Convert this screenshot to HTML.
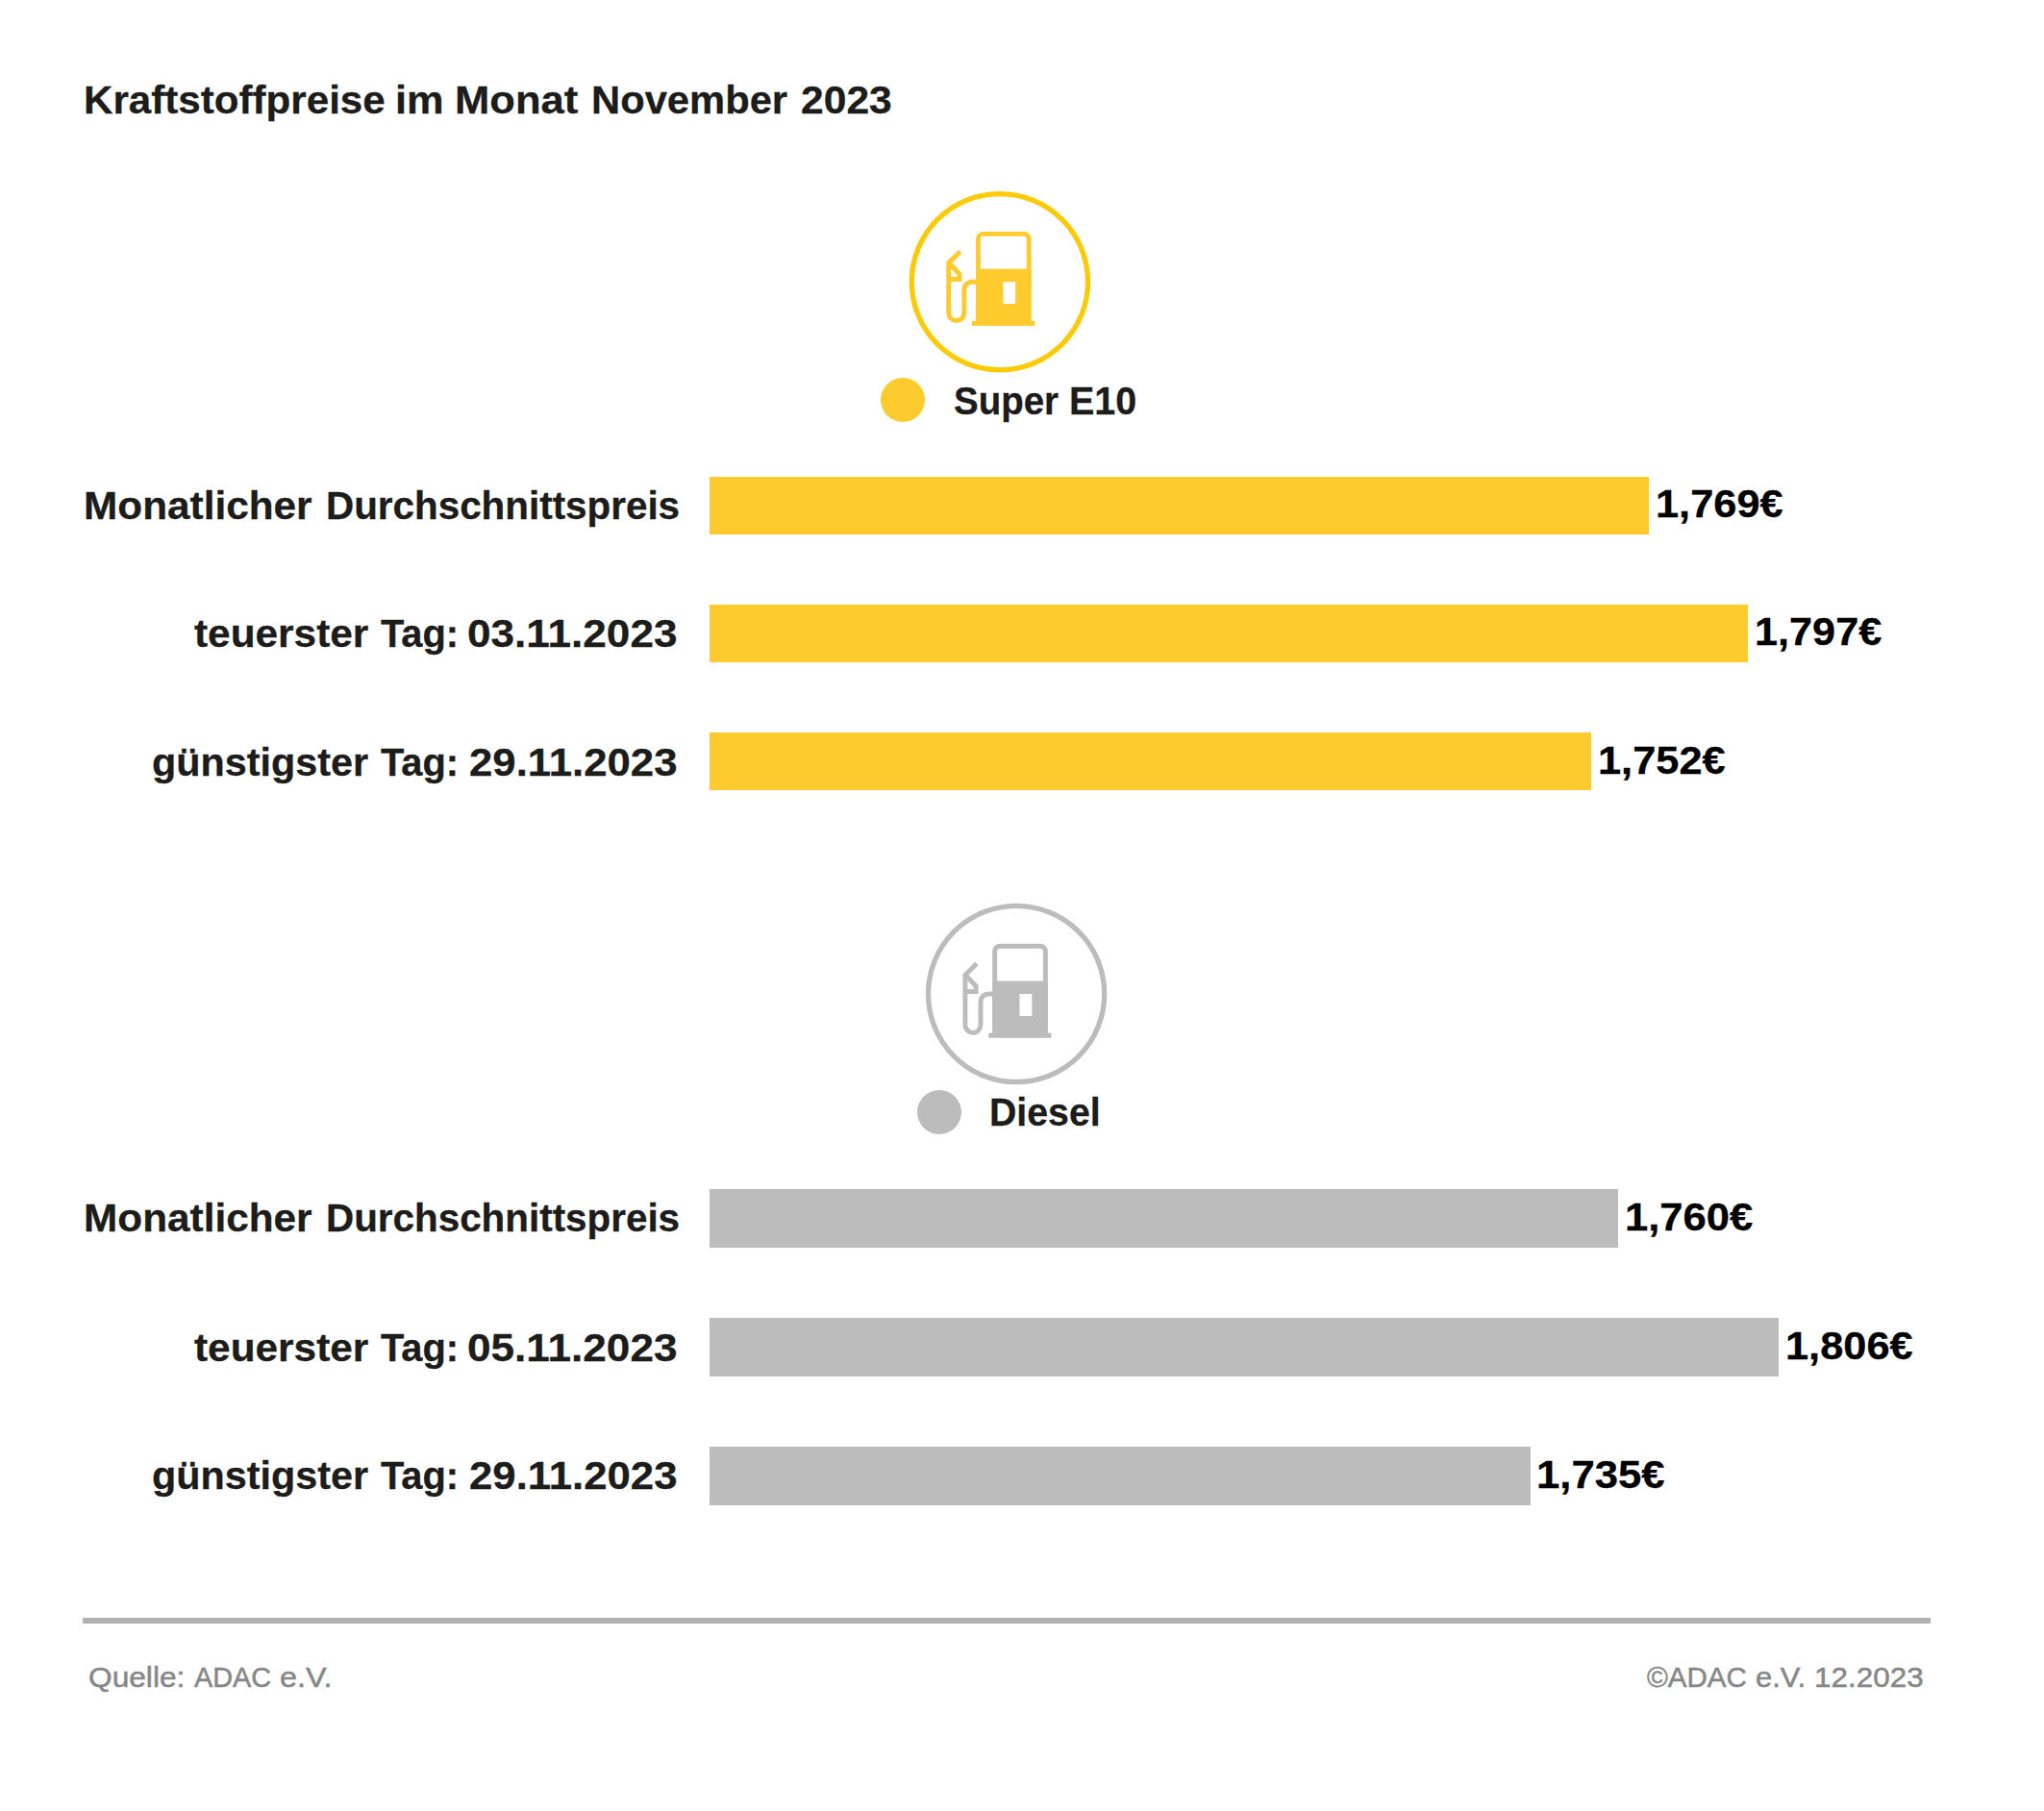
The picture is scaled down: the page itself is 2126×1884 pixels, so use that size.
<!DOCTYPE html>
<html lang="de">
<head>
<meta charset="utf-8">
<title>Kraftstoffpreise im Monat November 2023</title>
<style>
  html, body { margin: 0; padding: 0; background: #ffffff; }
  body { width: 2126px; height: 1884px; position: relative; overflow: hidden;
         font-family: "Liberation Sans", sans-serif; }
  .t { position: absolute; left: 0; width: 2126px; height: 41px; white-space: nowrap; line-height: 1; margin: 0;
       font-weight: bold; font-size: 41px; color: #1c1c1b; -webkit-text-stroke: 0.3px #1c1c1b; }
  .t span { position: absolute; top: 0; transform-origin: 0 0; white-space: nowrap; }
  .val { color: #000000; -webkit-text-stroke: 0.3px #000000; }
  .foot { font-weight: normal; font-size: 30.4px; color: #878787; -webkit-text-stroke: 0.5px #878787; }
  .bar { position: absolute; left: 738px; height: 60px; }
  .y { background: #fdcb2e; }
  .g { background: #bcbcbc; }
  .dot { position: absolute; width: 46px; height: 46px; border-radius: 50%; }
  .rule { position: absolute; left: 86.3px; top: 1683px; width: 1921.7px; height: 5.6px; background: #b0b0b0; }
  svg { position: absolute; left: 0; top: 0; overflow: visible; }
</style>
</head>
<body>

<h1 class="t" id="title" style="top:83.6px;"><span style="left:86.72px; transform:scaleX(1.0276);">Kraftstoffpreise</span> <span style="left:411.33px; transform:scaleX(1.0581);">im</span> <span style="left:473.41px; transform:scaleX(1.0624);">Monat</span> <span style="left:615.45px; transform:scaleX(1.0178);">November</span> <span style="left:832.86px; transform:scaleX(1.0393);">2023</span></h1>

<!-- Super E10 -->
<svg width="2126" height="1884" viewBox="0 0 2126 1884">
  <g fill="none" stroke="#fdcb2e">
    <circle cx="1039.9" cy="293.2" r="91.65" stroke="#fdca08" stroke-width="5.3"/>
    <rect x="1017.45" y="243.4" width="52.75" height="93" rx="5.5" ry="5.5" stroke-width="4.9"/>
    <path d="M1015 279.7H1072.65V336H1015Z M1043.3 293.3V316.1H1056.1V293.3Z" fill="#fdcb2e" stroke="none" fill-rule="evenodd"/>
    <rect x="1011" y="333.9" width="65.3" height="5" fill="#fdcb2e" stroke="none"/>
    <path d="M1016 293.2H1010.8A8 8 0 0 0 1002.8 301.2V325.5A8.05 8.05 0 0 1 986.7 325.5V273.4L998.7 261.7" stroke-width="4.9" stroke-linejoin="miter" stroke-miterlimit="10"/>
    <path d="M987.4 273.8L997.8 285V290.6H986.8" stroke-width="5" stroke-linejoin="miter"/>
  </g>
</svg>
<div class="dot y" style="left:916.4px; top:393.3px;"></div>
<div class="t" id="lblY" style="top:396.6px;"><span style="left:991.56px; transform:scaleX(0.9383);">Super</span> <span style="left:1111.71px; transform:scaleX(0.9638);">E10</span></div>

<div class="t" id="ly1" style="top:505.8px;"><span style="left:86.9px; transform:scaleX(1.0326);">Monatlicher</span> <span style="left:339.04px; transform:scaleX(0.9851);">Durchschnittspreis</span></div>
<div class="bar y" style="top:496px; width:977px;"></div>
<div class="t val" id="vy1" style="top:504.2px;"><span style="left:1722.08px; transform:scaleX(1.0577);">1,769€</span></div>

<div class="t" id="ly2" style="top:639.2px;"><span style="left:201.6px; transform:scaleX(1.0331);">teuerster</span> <span style="left:396.1px; transform:scaleX(0.9712);">Tag:</span> <span style="left:486.42px; transform:scaleX(1.0766);">03.11.2023</span></div>
<div class="bar y" style="top:629px; width:1080px;"></div>
<div class="t val" id="vy2" style="top:637.4px;"><span style="left:1825.49px; transform:scaleX(1.0545);">1,797€</span></div>

<div class="t" id="ly3" style="top:772.5px;"><span style="left:157.68px; transform:scaleX(1.0077);">günstigster</span> <span style="left:396.1px; transform:scaleX(0.9712);">Tag:</span> <span style="left:488.43px; transform:scaleX(1.0667);">29.11.2023</span></div>
<div class="bar y" style="top:762px; width:916.6px;"></div>
<div class="t val" id="vy3" style="top:770.6px;"><span style="left:1661.78px; transform:scaleX(1.0577);">1,752€</span></div>

<!-- Diesel -->
<svg width="2126" height="1884" viewBox="0 0 2126 1884">
  <g fill="none" stroke="#bcbcbc" transform="translate(17.2 740.8)">
    <circle cx="1039.9" cy="293.2" r="91.65" stroke="#bcbcbc" stroke-width="5.3"/>
    <rect x="1017.45" y="243.4" width="52.75" height="93" rx="5.5" ry="5.5" stroke-width="4.9"/>
    <path d="M1015 279.7H1072.65V336H1015Z M1043.3 293.3V316.1H1056.1V293.3Z" fill="#bcbcbc" stroke="none" fill-rule="evenodd"/>
    <rect x="1011" y="333.9" width="65.3" height="5" fill="#bcbcbc" stroke="none"/>
    <path d="M1016 293.2H1010.8A8 8 0 0 0 1002.8 301.2V325.5A8.05 8.05 0 0 1 986.7 325.5V273.4L998.7 261.7" stroke-width="4.9" stroke-linejoin="miter" stroke-miterlimit="10"/>
    <path d="M987.4 273.8L997.8 285V290.6H986.8" stroke-width="5" stroke-linejoin="miter"/>
  </g>
</svg>
<div class="dot g" style="left:953.8px; top:1134.1px;"></div>
<div class="t" id="lblG" style="top:1137.0px;"><span style="left:1029.23px; transform:scaleX(0.9574);">Diesel</span></div>

<div class="t" id="lg1" style="top:1247.3px;"><span style="left:86.9px; transform:scaleX(1.0326);">Monatlicher</span> <span style="left:339.04px; transform:scaleX(0.9851);">Durchschnittspreis</span></div>
<div class="bar g" style="top:1237px; width:945.4px; height:61px;"></div>
<div class="t val" id="vg1" style="top:1245.8px;"><span style="left:1690.17px; transform:scaleX(1.0634);">1,760€</span></div>

<div class="t" id="lg2" style="top:1381.8px;"><span style="left:201.6px; transform:scaleX(1.0331);">teuerster</span> <span style="left:396.1px; transform:scaleX(0.9712);">Tag:</span> <span style="left:486.42px; transform:scaleX(1.0766);">05.11.2023</span></div>
<div class="bar g" style="top:1371px; width:1112px; height:61px;"></div>
<div class="t val" id="vg2" style="top:1380.0px;"><span style="left:1856.88px; transform:scaleX(1.0577);">1,806€</span></div>

<div class="t" id="lg3" style="top:1515.3px;"><span style="left:157.68px; transform:scaleX(1.0077);">günstigster</span> <span style="left:396.1px; transform:scaleX(0.9712);">Tag:</span> <span style="left:488.43px; transform:scaleX(1.0667);">29.11.2023</span></div>
<div class="bar g" style="top:1505px; width:853.6px; height:61px;"></div>
<div class="t val" id="vg3" style="top:1513.5px;"><span style="left:1598.07px; transform:scaleX(1.065);">1,735€</span></div>

<!-- Footer -->
<div class="rule"></div>
<div class="t foot" id="f1" style="top:1729.3px;"><span style="left:92.46px; transform:scaleX(1.0419);">Quelle:</span> <span style="left:202.1px; transform:scaleX(0.9482);">ADAC</span> <span style="left:291.04px; transform:scaleX(1.0646);">e.V.</span></div>
<div class="t foot" id="f2" style="top:1729.3px;"><span style="left:1712.9px; transform:scaleX(0.9726);">©ADAC</span> <span style="left:1826.08px; transform:scaleX(1.0167);">e.V.</span> <span style="left:1886.73px; transform:scaleX(1.0346);">12.2023</span></div>

</body>
</html>
